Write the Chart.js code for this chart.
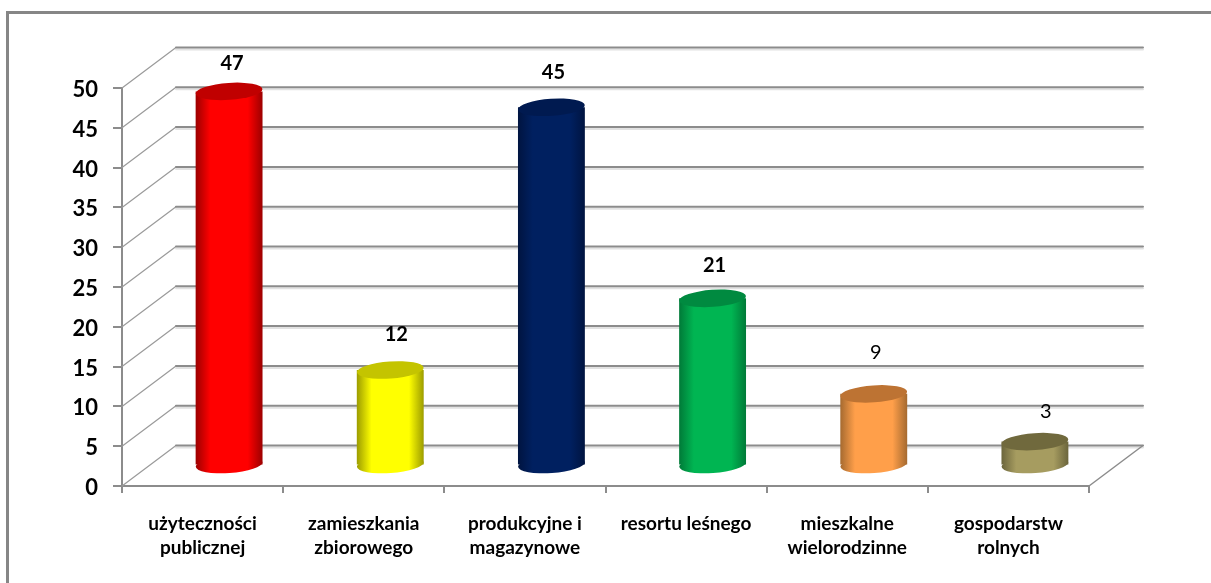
<!DOCTYPE html>
<html lang="pl">
<head>
<meta charset="utf-8">
<title>Wykres</title>
<script src="https://cdn.jsdelivr.net/npm/chart.js@4"></script>
<style>
    html, body { margin: 0; padding: 0; background: #fff; overflow: hidden; }
    #wrap { position: relative; width: 1211px; height: 583px; }
    #frame { position: absolute; left: 6px; top: 11px; right: 0; bottom: 0; border-left: 3px solid #868686; border-top: 3px solid #868686; }
    canvas { position: absolute; left: 0; top: 0; }
</style>
</head>
<body>
<div id="wrap">
    <div id="frame"></div>
    <canvas id="chartBudynki" width="1211" height="583"></canvas>
</div>
<script>
const kategorie = [
    ['użyteczności', 'publicznej'],
    ['zamieszkania', 'zbiorowego'],
    ['produkcyjne i', 'magazynowe'],
    ['resortu leśnego'],
    ['mieszkalne', 'wielorodzinne'],
    ['gospodarstw', 'rolnych']
];
const wartosci = [47, 12, 45, 21, 9, 3];

// kolory walców: środek, krawędź, wieczko
const koloryBar = ['#ff0000', '#ffff00', '#002060', '#00b552', '#ff9f4a', '#a69c60'];
const koloryKrawedz = ['#9c0000', '#9c9c00', '#001440', '#007a38', '#a56a30', '#6b653c'];
const koloryWieczko = ['#c00000', '#c4c400', '#001a50', '#008a40', '#bd7333', '#70693d'];

// ręczne przesunięcia etykiet danych, jak w oryginale
const etykietaDx = [3, 6, 2, 2, 2, 11];
const etykietaDy = [-28, -35, -35, -33, -41, -30];
const etykietaWaga = ['bold', 'bold', 'bold', 'bold', 'normal', 'normal'];

const FONT = "Lato, 'Open Sans', sans-serif";
const SZARY = '#8c8c8c';
const GLEBIA_X = 54, GLEBIA_Y = -40.5; // przesuniecie tylnej sciany
const SRODEK_X = 26.5, SRODEK_Y = -20.5; // walce stoja w polowie glebi
const SZER_SLUPKA = 0.415;

const walce3d = {
    id: 'walce3d',
    beforeDraw(chart) {
        // opisy osi Y sa w oryginale ok. 2 px nizej
        const y = chart.scales.y;
        if (y._przesuniete) return;
        y._przesuniete = true;
        const rysuj = y.drawLabels;
        y.drawLabels = function (area) {
            chart.ctx.save();
            chart.ctx.translate(0, 2);
            rysuj.call(y, area);
            chart.ctx.restore();
        };
    },
    beforeDatasetsDraw(chart) {
        const { ctx, chartArea: a, scales: { y } } = chart;
        ctx.save();
        // tylna sciana i lewa sciana
        y.ticks.forEach(function (t) {
            const py = y.getPixelForValue(t.value);
            ctx.lineCap = 'round';
            ctx.strokeStyle = '#9a9a9a';
            ctx.lineWidth = 1.2;
            ctx.beginPath();
            ctx.moveTo(a.left, py);
            ctx.lineTo(a.left + GLEBIA_X, py + GLEBIA_Y);
            ctx.stroke();
            ctx.strokeStyle = '#e2e2e2';
            ctx.lineWidth = 2;
            ctx.beginPath();
            ctx.moveTo(a.left + GLEBIA_X, py + GLEBIA_Y + 2);
            ctx.lineTo(a.right + GLEBIA_X, py + GLEBIA_Y + 2);
            ctx.stroke();
            ctx.strokeStyle = SZARY;
            ctx.lineWidth = 2;
            ctx.beginPath();
            ctx.moveTo(a.left + GLEBIA_X, py + GLEBIA_Y);
            ctx.lineTo(a.right + GLEBIA_X, py + GLEBIA_Y);
            ctx.stroke();
        });
        // prawa krawedz podlogi
        ctx.lineWidth = 1.5;
        ctx.beginPath();
        ctx.moveTo(a.right, a.bottom);
        ctx.lineTo(a.right + GLEBIA_X, a.bottom + GLEBIA_Y);
        ctx.stroke();
        ctx.restore();

        // slupki rysuje Chart.js w przesunietym ukladzie
        ctx.save();
        ctx.translate(SRODEK_X, SRODEK_Y);
        chart.getDatasetMeta(0).data.forEach(function (bar, i) {
            ctx.fillStyle = bar.options.backgroundColor;
            ctx.beginPath();
            ctx.ellipse(bar.x, bar.base, bar.width / 2, 8.5, -0.07, 0, Math.PI * 2);
            ctx.fill();
        });
    },
    afterDatasetsDraw(chart) {
        const { ctx } = chart;
        const bars = chart.getDatasetMeta(0).data;
        bars.forEach(function (bar, i) {
            ctx.fillStyle = koloryWieczko[i];
            ctx.beginPath();
            ctx.ellipse(bar.x, bar.y, bar.width / 2, 8.5, -0.07, 0, Math.PI * 2);
            ctx.fill();
        });
        ctx.restore();

        // etykiety danych
        ctx.save();
        ctx.fillStyle = '#000';
        ctx.textAlign = 'center';
        ctx.textBaseline = 'middle';
        bars.forEach(function (bar, i) {
            ctx.font = etykietaWaga[i] + ' 20px ' + FONT;
            ctx.fillText(String(wartosci[i]), bar.x + SRODEK_X + etykietaDx[i], bar.y + SRODEK_Y + etykietaDy[i]);
        });
        ctx.restore();
    }
};

new Chart(document.getElementById('chartBudynki'), {
    type: 'bar',
    data: {
        labels: kategorie,
        datasets: [{
            data: wartosci,
            borderWidth: 0,
            barPercentage: SZER_SLUPKA,
            categoryPercentage: 1,
            backgroundColor: function (c) {
                const chart = c.chart;
                const i = c.dataIndex;
                if (!chart.chartArea || i === undefined) return koloryBar[i] || '#000';
                const x = chart.scales.x.getPixelForValue(i);
                const pol = (chart.chartArea.width / kategorie.length) * SZER_SLUPKA / 2;
                const g = chart.ctx.createLinearGradient(x - pol, 0, x + pol, 0);
                g.addColorStop(0, koloryKrawedz[i]);
                g.addColorStop(0.22, koloryBar[i]);
                g.addColorStop(0.78, koloryBar[i]);
                g.addColorStop(1, koloryKrawedz[i]);
                return g;
            }
        }]
    },
    options: {
        responsive: false,
        animation: false,
        layout: { padding: { left: 0, top: 88, right: 122, bottom: 0 } },
        plugins: {
            legend: { display: false },
            tooltip: { enabled: false }
        },
        scales: {
            y: {
                min: 0,
                max: 50,
                afterFit: function (s) { s.width = 122; },
                border: { color: SZARY, width: 2 },
                grid: { drawOnChartArea: false, color: SZARY, lineWidth: 2, tickLength: 9 },
                ticks: {
                    stepSize: 5,
                    padding: 15,
                    color: '#000',
                    font: { family: FONT, size: 22, weight: 'bold' }
                }
            },
            x: {
                afterFit: function (s) { s.height = 97; },
                border: { color: SZARY, width: 2 },
                grid: { drawOnChartArea: false, color: SZARY, lineWidth: 2, tickLength: 7 },
                ticks: {
                    maxRotation: 0,
                    autoSkip: false,
                    padding: 19,
                    color: '#000',
                    font: { family: FONT, size: 19, weight: 'bold', lineHeight: 1.26 }
                }
            }
        }
    },
    plugins: [walce3d]
});
</script>
</body>
</html>
